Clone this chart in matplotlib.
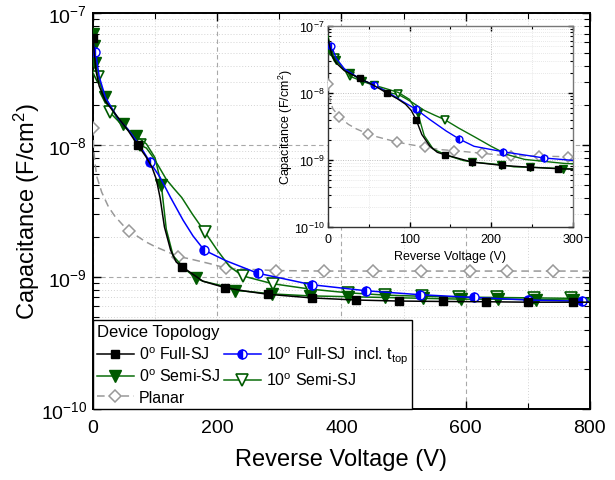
import matplotlib
matplotlib.use('Agg')
import matplotlib.pyplot as plt
from matplotlib.ticker import LogLocator, MultipleLocator, NullFormatter

plt.rcParams['font.family'] = ['Liberation Sans', 'DejaVu Sans']
plt.rcParams['mathtext.fontset'] = 'custom'
plt.rcParams['mathtext.rm'] = 'Liberation Sans'
plt.rcParams['mathtext.it'] = 'Liberation Sans:italic'
plt.rcParams['mathtext.bf'] = 'Liberation Sans:bold'

# ---------------- data ----------------
V_fsj0 = [0, 2, 5, 10, 20, 39, 56, 72, 85, 95, 102, 108, 115, 125, 134, 143, 177, 213, 247, 282,
          352, 423, 492, 563, 632, 701, 772, 800]
C_fsj0 = [6.5e-8, 5e-8, 3.6e-8, 2.8e-8, 2.15e-8, 1.65e-8, 1.3e-8, 1.0e-8, 8.2e-9, 6.8e-9, 5.5e-9, 4.0e-9,
          2.4e-9, 1.6e-9, 1.3e-9, 1.2e-9, 9.3e-10, 8.3e-10, 7.8e-10, 7.4e-10,
          6.95e-10, 6.7e-10, 6.58e-10, 6.53e-10, 6.5e-10, 6.45e-10, 6.45e-10, 6.45e-10]
mk_fsj0_main = [0, 72, 143, 213, 282, 352, 423, 492, 563, 632, 701, 772]
mk_fsj0_ins = [39, 72, 108, 143, 177, 213, 247, 282]

V_fsj10 = [0, 4, 10, 20, 40, 56, 75, 92, 108, 125, 145, 161, 179, 214, 265, 352, 440, 526, 614, 701, 788, 800]
C_fsj10 = [6e-8, 5.1e-8, 3.3e-8, 2.3e-8, 1.6e-8, 1.32e-8, 1.0e-8, 7.4e-9, 5.7e-9, 4.0e-9, 2.7e-9, 2.05e-9,
           1.6e-9, 1.33e-9, 1.07e-9, 8.75e-10, 7.87e-10, 7.35e-10, 7.0e-10, 6.7e-10, 6.55e-10, 6.5e-10]
mk_fsj10_main = [4, 92, 179, 265, 352, 440, 526, 614, 701, 788]
mk_fsj10_ins = [4, 56, 108, 161, 214, 265]

V_ssj0 = [0, 1, 3, 10, 19, 27, 42, 49, 57, 70, 86, 100, 110, 118, 129, 148, 166, 177, 212, 228, 247, 288,
          349, 410, 470, 531, 593, 652, 714, 773, 800]
C_ssj0 = [7e-8, 5.6e-8, 4.2e-8, 3.1e-8, 2.3e-8, 2.0e-8, 1.5e-8, 1.44e-8, 1.3e-8, 1.17e-8, 1.02e-8, 8e-9,
          5.0e-9, 2.3e-9, 1.45e-9, 1.15e-9, 9.8e-10, 9.3e-10, 8.5e-10, 7.9e-10, 7.8e-10, 7.45e-10,
          7.2e-10, 7.1e-10, 7.0e-10, 6.9e-10, 6.8e-10, 6.8e-10, 6.75e-10, 6.7e-10, 6.7e-10]
mk_ssj0_main = [0, 1, 3, 19, 49, 70, 110, 166, 228, 288, 349, 410, 470, 531, 593, 652, 714, 773]
mk_ssj0_ins = [3, 10, 27, 42, 57, 110, 177, 212, 247, 288]

V_ssj10 = [0, 3, 8, 15, 27, 45, 60, 76, 86, 95, 105, 118, 130, 143, 160, 180, 200, 220, 241, 289,
           350, 410, 470, 530, 590, 650, 710, 770, 800]
C_ssj10 = [7e-8, 5e-8, 3.3e-8, 2.6e-8, 1.77e-8, 1.45e-8, 1.25e-8, 1.0e-8, 9.5e-9, 8.3e-9, 7.0e-9, 5.5e-9,
           4.7e-9, 4.0e-9, 3.0e-9, 2.2e-9, 1.6e-9, 1.2e-9, 1.02e-9, 8.9e-10,
           8.1e-10, 7.6e-10, 7.3e-10, 7.15e-10, 7.05e-10, 7.0e-10, 6.95e-10, 6.9e-10, 6.9e-10]
mk_ssj10_main = [8, 27, 76, 180, 241, 289, 350, 410, 470, 530, 590, 650, 710, 770]
mk_ssj10_ins = [8, 27, 86, 143]

V_pl = [0, 1, 3, 6, 14, 25, 35, 49, 58, 84, 100, 119, 137, 154, 189, 214, 224, 259, 294,
        372, 450, 528, 607, 667, 741, 800]
C_pl = [1.35e-8, 9.5e-9, 7.5e-9, 5.8e-9, 4.4e-9, 3.4e-9, 2.9e-9, 2.45e-9, 2.25e-9, 1.86e-9, 1.7e-9,
        1.56e-9, 1.43e-9, 1.38e-9, 1.26e-9, 1.17e-9, 1.16e-9, 1.14e-9, 1.12e-9,
        1.11e-9, 1.11e-9, 1.11e-9, 1.11e-9, 1.11e-9, 1.11e-9, 1.11e-9]
mk_pl_main = [0, 58, 137, 214, 294, 372, 450, 528, 607, 667, 741]
mk_pl_ins = [0, 14, 49, 84, 119, 154, 189, 224, 259, 294]

labels = ['0$^{\\rm o}$ Full-SJ', '10$^{\\rm o}$ Full-SJ  incl. t$_{\\rm top}$',
          '0$^{\\rm o}$ Semi-SJ', '10$^{\\rm o}$ Semi-SJ', 'Planar']

# ---------------- styles ----------------
GREEN = '#0a6e0a'
styles = [
    dict(color='black', lw=1.1, marker='s', ms=6, mfc='black', mec='black'),
    dict(color='#0000ff', lw=1.1, marker='o', ms=6.5, mfc='#0000ff', mec='#0000ff',
         fillstyle='left', markerfacecoloralt='white'),
    dict(color=GREEN, lw=1.1, marker='v', ms=8, mfc='#005a00', mec='#005a00'),
    dict(color=GREEN, lw=1.1, marker='v', ms=8, mfc='white', mec='#005a00', mew=1.2),
    dict(color='#999999', lw=1.1, ls=(0, (5, 3)), marker='D', ms=6.5, mfc='white', mec='#999999', mew=1.1),
]
series = [
    (V_fsj0, C_fsj0, mk_fsj0_main, mk_fsj0_ins),
    (V_fsj10, C_fsj10, mk_fsj10_main, mk_fsj10_ins),
    (V_ssj0, C_ssj0, mk_ssj0_main, mk_ssj0_ins),
    (V_ssj10, C_ssj10, mk_ssj10_main, mk_ssj10_ins),
    (V_pl, C_pl, mk_pl_main, mk_pl_ins),
]

fig = plt.figure(figsize=(6.15, 4.81), dpi=100)
ax = fig.add_axes([0.1512, 0.1476, 0.808, 0.823])

order = [4, 3, 1, 2, 0]
handles = [None] * 5
for i in order:
    V, C, mm, mi = series[i]
    idx = [V.index(v) for v in mm]
    ln, = ax.plot(V, C, markevery=idx, zorder=3 + (5 - i) * 0.1, **styles[i])
    handles[i] = ln


def style_axes(a, fs, major_len, minor_len, xmaj, xmin, xmax, pad):
    a.set_yscale('log')
    a.set_xlim(0, xmax)
    a.set_ylim(1e-10, 1e-7)
    a.xaxis.set_major_locator(MultipleLocator(xmaj))
    a.xaxis.set_minor_locator(MultipleLocator(xmin))
    a.yaxis.set_major_locator(LogLocator(base=10, numticks=10))
    a.yaxis.set_minor_locator(LogLocator(base=10, subs=range(2, 10), numticks=20))
    a.yaxis.set_minor_formatter(NullFormatter())
    a.tick_params(which='both', direction='in', top=True, right=True, labelsize=fs)
    a.tick_params(which='major', length=major_len, width=1.0)
    a.tick_params(which='minor', length=minor_len, width=0.8)
    a.tick_params(axis='x', which='both', pad=pad)
    a.tick_params(axis='y', which='both', pad=pad * 0.6)


style_axes(ax, 14, 6, 4, 200, 100, 800, 7)
ax.grid(True, which='major', color='#a8a8a8', ls=(0, (4, 3)), lw=0.8)
ax.grid(True, which='minor', color='#d4d4d4', ls=(0, (1, 2)), lw=0.7)
ax.set_axisbelow(True)
for s in ax.spines.values():
    s.set_linewidth(1.4)
ax.set_xlabel('Reverse Voltage (V)', fontsize=17, labelpad=9)
ax.set_ylabel('Capacitance (F/cm$^2$)', fontsize=17, labelpad=-1)

leg_h = [handles[0], handles[2], handles[4], handles[1], handles[3]]
leg_l = [labels[0], labels[2], labels[4], labels[1], labels[3]]
leg = ax.legend(leg_h, leg_l, title='Device Topology', ncol=2, loc='lower left',
                bbox_to_anchor=(0, 0), borderaxespad=0, fontsize=11.5, title_fontsize=12,
                frameon=True, fancybox=False, framealpha=1, edgecolor='black',
                handlelength=2.3, handletextpad=0.3, columnspacing=0.25, labelspacing=0.35,
                borderpad=0.25, alignment='left')
leg.get_frame().set_linewidth(1.0)
leg.set_zorder(10)

# ---------------- inset ----------------
ins = fig.add_axes([0.5333, 0.526, 0.398, 0.418])
ins.set_facecolor('white')
for i in order:
    V, C, mm, mi = series[i]
    idx = [V.index(v) for v in mi]
    st = dict(styles[i])
    st['ms'] = st['ms'] * 0.75
    st['lw'] = 1.0
    ins.plot(V, C, markevery=idx, zorder=3 + (5 - i) * 0.1, **st)
style_axes(ins, 9, 3.5, 2, 100, 50, 300, 4)
ins.grid(True, which='major', color='#c0c0c0', ls=(0, (1, 1.5)), lw=0.7)
ins.grid(True, which='minor', color='#e0e0e0', ls=(0, (1, 1.5)), lw=0.6)
ins.set_axisbelow(True)
for k, s in ins.spines.items():
    s.set_linewidth(1.0)
    s.set_color('#777777')
ins.spines['left'].set_color('#333333')
ins.spines['bottom'].set_color('#333333')
ins.set_xlabel('Reverse Voltage (V)', fontsize=9, labelpad=4)
ins.set_ylabel('Capacitance (F/cm$^2$)', fontsize=9, labelpad=-1)

fig.savefig('out.png', dpi=100)
